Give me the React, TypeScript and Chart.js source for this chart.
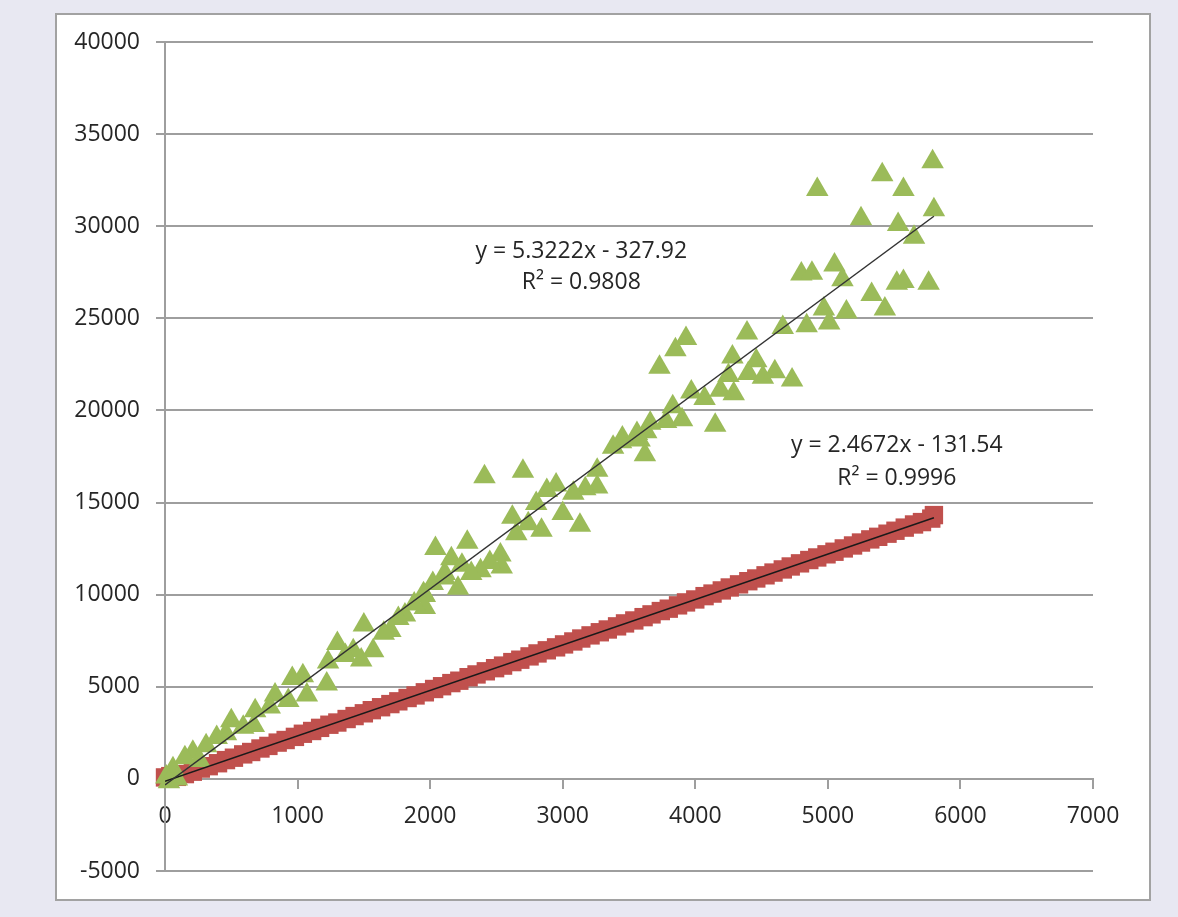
import React, { useEffect, useRef } from "react";
import { Chart, registerables } from "chart.js";

Chart.register(...registerables);

// Green series (triangles)
const greenX = [
  5790, 5410, 5570, 4920, 5800, 5250, 5530, 5650, 4800, 4880, 5050, 5110, 5520, 5570, 5760, 5330,
  5430, 4970, 5140, 5010, 4840, 4660, 4390, 3930, 3850, 3730, 4280, 4460, 4400, 4510, 4600, 4730,
  4250, 4290, 4190, 3970, 4070, 3830, 4150, 3900, 3780, 3630, 3450, 3580, 3660, 3560, 3440, 3380,
  3620, 3260, 2410, 2700, 3260, 3170, 3080, 2950, 2880, 2800, 3000, 3130, 2840, 2620, 2650, 2740,
  2040, 2280, 2160, 2240, 2530, 2540, 2450, 2380, 2310, 2110, 2020, 2210, 1950, 2110, 1960, 1960,
  1810, 1700, 1500, 1480, 1420, 1300, 1360, 1570, 1230, 1220, 1040, 960, 1070, 930, 830, 790,
  680, 670, 500, 460, 390, 310, 210, 150, 60, 10, 90, 260, 590, 1650, 1760, 1880, 30,
];
const greenY = [
  33500, 32800, 32000, 32000, 30900, 30400, 30100, 29400, 27400, 27450, 27900, 27100, 26900, 27000, 26900, 26300,
  25500, 25500, 25350, 24750, 24600, 24500, 24200, 23900, 23300, 22350, 22900, 22700, 22000, 21800, 22100, 21650,
  21900, 20900, 21100, 21000, 20650, 20200, 19200, 19500, 19400, 18850, 18500, 18400, 19300, 18750, 18300, 18000,
  17600, 16750, 16400, 16700, 15850, 15750, 15500, 15950, 15650, 14950, 14400, 13770, 13500, 14200, 13300, 13850,
  12500, 12850, 11950, 11600, 12150, 11500, 11750, 11300, 11150, 11150, 10600, 10350, 10050, 10900, 9950, 9300,
  8900, 8050, 8350, 6450, 6950, 7350, 6700, 6950, 6350, 5150, 5600, 5450, 4550, 4250, 4550, 3900,
  3700, 2900, 3150, 2450, 2250, 1800, 1450, 1150, 550, 100, 0, 1000, 2800, 7900, 8700, 9500, -150,
];

// Red series (squares)
const redX = [
  0, 40, 90, 150, 210, 270, 330, 400, 460, 520, 590, 650, 720, 780, 850, 910, 980, 1040, 1110, 1170,
  1240, 1300, 1370, 1430, 1500, 1560, 1630, 1700, 1760, 1830, 1890, 1960, 2030, 2090, 2160, 2220, 2290,
  2350, 2420, 2490, 2550, 2620, 2680, 2750, 2810, 2880, 2950, 3010, 3080, 3140, 3210, 3280, 3340, 3410,
  3470, 3540, 3610, 3670, 3740, 3800, 3870, 3930, 4000, 4070, 4130, 4200, 4260, 4330, 4400, 4460, 4530,
  4590, 4660, 4720, 4790, 4860, 4920, 4990, 5050, 5120, 5190, 5250, 5320, 5380, 5450, 5510, 5580, 5650,
  5710, 5780, 5800,
];
const redY = [
  80, 150, 110, 260, 390, 560, 690, 850, 1020, 1150, 1330, 1460, 1650, 1790, 1970, 2110, 2280, 2450, 2600, 2770,
  2940, 3060, 3250, 3410, 3560, 3730, 3890, 4060, 4210, 4390, 4530, 4700, 4880, 5030, 5200, 5330, 5520,
  5670, 5840, 6010, 6150, 6340, 6470, 6650, 6810, 6980, 7140, 7300, 7460, 7620, 7790, 7960, 8110, 8280,
  8440, 8600, 8780, 8930, 9110, 9240, 9420, 9580, 9740, 9920, 10060, 10230, 10390, 10560, 10730, 10880, 11050,
  11200, 11370, 11530, 11700, 11880, 12020, 12190, 12330, 12510, 12670, 12830, 13000, 13140, 13310, 13470, 13640, 13810,
  13940, 14130, 14320,
];

// Trendlines (linear fits shown on the chart)
const trendSlopes = [5.3222, 2.4672];
const trendIntercepts = [-327.92, -131.54];
const trendXRange = [0, 5800];

// Trendline labels
const eqLabels = ["y = 5.3222x - 327.92", "y = 2.4672x - 131.54"];
const r2Labels = ["R\u00B2 = 0.9808", "R\u00B2 = 0.9996"];
const labelX = [3140, 5520];
const eqLabelY = [28280, 17730];
const r2LabelY = [26590, 15940];

// Axis ticks
const xTickValues = [0, 1000, 2000, 3000, 4000, 5000, 6000, 7000];
const yTickValues = [-5000, 0, 5000, 10000, 15000, 20000, 25000, 30000, 35000, 40000];

const FONT = "'Open Sans', sans-serif";
const TEXT = "#262626";
const GRID = "#9e9e9e";

export default function App() {
  const ref = useRef<HTMLCanvasElement | null>(null);

  useEffect(() => {
    document.body.style.margin = "0";
    const canvas = ref.current;
    if (!canvas) return;

    const labelPlugin = {
      id: "trendLabels",
      afterDatasetsDraw(chart: any) {
        const c = chart.ctx;
        const xs = chart.scales.x;
        const ys = chart.scales.y;
        c.save();
        c.font = `23px ${FONT}`;
        c.fillStyle = TEXT;
        c.textAlign = "center";
        c.textBaseline = "alphabetic";
        eqLabels.forEach((t, i) => {
          const px = xs.getPixelForValue(labelX[i]);
          c.fillText(t, px, ys.getPixelForValue(eqLabelY[i]));
          c.fillText(r2Labels[i], px, ys.getPixelForValue(r2LabelY[i]));
        });
        c.restore();
      },
    };

    const trendData = (i: number) =>
      trendXRange.map((x) => ({ x, y: trendSlopes[i] * x + trendIntercepts[i] }));

    const chart = new Chart(canvas, {
      type: "scatter",
      data: {
        datasets: [
          {
            label: "trend green",
            data: trendData(0),
            showLine: true,
            borderColor: "#333333",
            borderWidth: 1.5,
            pointRadius: 0,
            order: 0,
          } as any,
          {
            label: "trend red",
            data: trendData(1),
            showLine: true,
            borderColor: "#1a1a1a",
            borderWidth: 1.5,
            pointRadius: 0,
            order: 0,
          } as any,
          {
            label: "green",
            data: greenX.map((x, i) => ({ x, y: greenY[i] })),
            pointStyle: "triangle",
            pointRadius: 13,
            backgroundColor: "#9BBB59",
            borderColor: "#9BBB59",
            borderWidth: 0,
            clip: false,
            order: 1,
          } as any,
          {
            label: "red",
            data: redX.map((x, i) => ({ x, y: redY[i] })),
            pointStyle: "rect",
            pointRadius: 13,
            backgroundColor: "#C0504D",
            borderColor: "#C0504D",
            borderWidth: 0,
            clip: false,
            order: 2,
          } as any,
        ],
      },
      options: {
        responsive: false,
        animation: false,
        events: [],
        layout: { padding: { left: 0, top: 42, right: 85, bottom: 46 } },
        plugins: { legend: { display: false }, tooltip: { enabled: false } },
        scales: {
          x: {
            type: "linear",
            position: { y: 0 } as any,
            min: 0,
            max: 7000,
            afterBuildTicks: (s: any) => {
              s.ticks = xTickValues.map((v) => ({ value: v }));
            },
            ticks: {
              color: TEXT,
              font: { family: FONT, size: 23 },
              padding: 15,
              maxRotation: 0,
              callback: (v: any) => String(v),
            },
            grid: { drawOnChartArea: false, drawTicks: true, tickLength: 9, color: GRID, lineWidth: 2 },
            border: { display: true, color: GRID, width: 2 },
          },
          y: {
            type: "linear",
            min: -5000,
            max: 40000,
            afterBuildTicks: (s: any) => {
              s.ticks = yTickValues.map((v) => ({ value: v }));
            },
            afterFit: (s: any) => {
              s.width = 165;
            },
            ticks: {
              color: TEXT,
              font: { family: FONT, size: 23 },
              padding: 16,
              callback: (v: any) => String(v),
            },
            grid: { color: GRID, lineWidth: 2, tickLength: 9, drawTicks: true },
            border: { display: true, color: GRID, width: 2 },
          },
        },
      },
      plugins: [labelPlugin],
    });

    return () => chart.destroy();
  }, []);

  return (
    <div
      style={{
        position: "fixed",
        left: 0,
        top: 0,
        width: 1178,
        height: 917,
        background: "#e8e8f2",
        overflow: "hidden",
      }}
    >
      <div
        style={{
          position: "absolute",
          left: 55,
          top: 13,
          width: 1092,
          height: 884,
          background: "#ffffff",
          border: "2px solid #a2a2a2",
        }}
      />
      <canvas
        ref={ref}
        width={1178}
        height={917}
        style={{ position: "absolute", left: 0, top: 0, width: 1178, height: 917 }}
      />
    </div>
  );
}
